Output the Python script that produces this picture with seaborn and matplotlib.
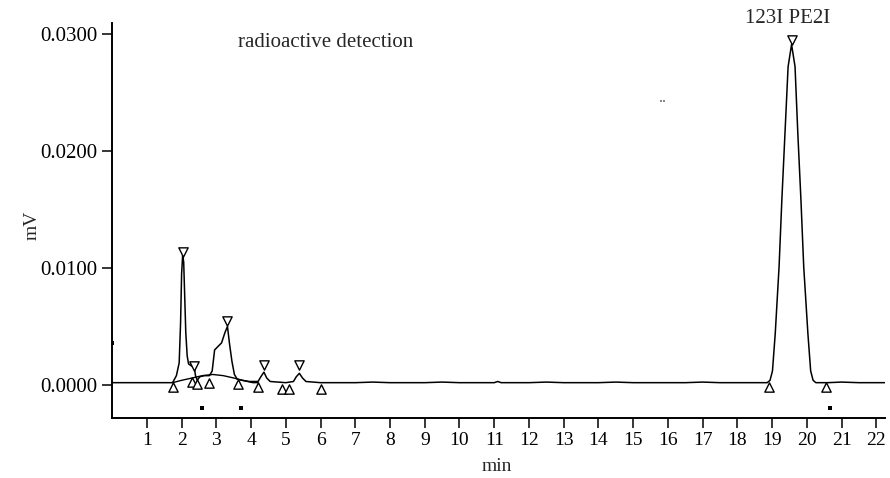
import numpy as np
import pandas as pd
import matplotlib
matplotlib.use("Agg")
import matplotlib.pyplot as plt
import seaborn as sns

# ---- data ----
trace_t = [0.0, 0.5, 1.0, 1.5, 1.74, 1.85, 1.93, 1.97, 2.00, 2.03, 2.06, 2.09, 2.12,
           2.16, 2.20, 2.30, 2.36, 2.40, 2.45, 2.52, 2.65, 2.80, 2.88, 2.95, 3.05,
           3.15, 3.25, 3.32, 3.38, 3.45, 3.52, 3.60, 3.75, 3.95, 4.20, 4.28, 4.37,
           4.45, 4.55, 5.00, 5.22, 5.30, 5.39, 5.48, 5.58, 6.0, 6.5, 7.0, 7.5, 8.0,
           8.5, 9.0, 9.5, 10.0, 10.5, 11.0, 11.1, 11.2, 11.5, 12.0, 12.5, 13.0,
           13.5, 14.0, 14.5, 15.0, 15.5, 16.0, 16.5, 17.0, 17.5, 18.0, 18.5, 18.86,
           18.94, 19.01, 19.09, 19.20, 19.28, 19.37, 19.46, 19.56, 19.66, 19.74,
           19.83, 19.91, 20.03, 20.11, 20.18, 20.26, 20.4, 20.6, 21.0, 21.5, 22.0,
           22.24]
trace_mv = [0.0002, 0.0002, 0.0002, 0.0002, 0.0002, 0.0008, 0.0019, 0.0053, 0.0095,
            0.0111, 0.0105, 0.0075, 0.0045, 0.0025, 0.0018, 0.0016, 0.0016, 0.0008,
            0.0004, 0.0007, 0.0008, 0.0008, 0.0012, 0.0030, 0.0033, 0.0036, 0.0045,
            0.0050, 0.0035, 0.0020, 0.0009, 0.0005, 0.0004, 0.0003, 0.0003, 0.0007,
            0.0011, 0.0006, 0.0003, 0.0002, 0.0003, 0.0007, 0.0010, 0.0006, 0.0003,
            0.0002, 0.0002, 0.0002, 0.00025, 0.0002, 0.0002, 0.0002, 0.00025, 0.0002,
            0.0002, 0.0002, 0.0003, 0.0002, 0.0002, 0.0002, 0.00025, 0.0002, 0.0002,
            0.0002, 0.00025, 0.0002, 0.0002, 0.0002, 0.0002, 0.00025, 0.0002, 0.0002,
            0.0002, 0.0002, 0.0004, 0.0012, 0.0044, 0.0101, 0.0158, 0.0215, 0.0272,
            0.0291, 0.0272, 0.0215, 0.0158, 0.0101, 0.0044, 0.0012, 0.0004, 0.0002,
            0.0002, 0.0002, 0.00025, 0.0002, 0.0002, 0.0002]

hump_t = [1.74, 2.0, 2.3, 2.6, 2.9, 3.2, 3.5, 3.75, 4.05, 4.2]
hump_mv = [0.0002, 0.0004, 0.0006, 0.0008, 0.0009, 0.0008, 0.0006, 0.0004, 0.0002, 0.0002]

apex_t = [2.03, 2.36, 3.32, 4.37, 5.39, 19.56]
apex_mv = [0.0114, 0.0016, 0.0055, 0.0017, 0.0017, 0.0295]

start_t = [1.74, 2.29, 2.43, 2.79, 3.63, 4.19, 4.88, 5.10, 6.00, 18.90, 20.56]
start_mv = [-0.0002, 0.0003, 0.0001, 0.0002, 0.0001, -0.0002, -0.0003, -0.0003,
            -0.0003, -0.0002, -0.0002]

dot_t = [0.0, 2.6, 3.72, 20.68]
dot_mv = [0.0036, -0.0020, -0.0020, -0.0020]

faint_t = [15.8, 15.9]
faint_mv = [0.0243, 0.0243]

x_ticks = list(range(1, 23))
y_ticks = [0.0, 0.01, 0.02, 0.03]
y_ticklabels = ["0.0000", "0.0100", "0.0200", "0.0300"]

# ---- plot ----
sns.set_style("ticks")
plt.rcParams["font.family"] = ["Liberation Serif", "DejaVu Serif"]

fig = plt.figure(figsize=(8.9, 4.78), dpi=100)
ax = fig.add_axes([0.126, 0.1255, 0.994 - 0.126, 0.952 - 0.1255])

df_trace = pd.DataFrame({"t": trace_t, "mv": trace_mv})
df_hump = pd.DataFrame({"t": hump_t, "mv": hump_mv})
sns.lineplot(data=df_trace, x="t", y="mv", ax=ax, color="black", lw=1.1,
             sort=False, estimator=None)
sns.lineplot(data=df_hump, x="t", y="mv", ax=ax, color="black", lw=1.0,
             sort=False, estimator=None)

sns.scatterplot(x=apex_t, y=apex_mv, ax=ax, marker="v", s=45,
                facecolor="white", edgecolor="black", linewidth=1.0, zorder=5)
sns.scatterplot(x=start_t, y=start_mv, ax=ax, marker="^", s=45,
                facecolor="white", edgecolor="black", linewidth=1.0, zorder=5)
sns.scatterplot(x=dot_t, y=dot_mv, ax=ax, marker="s", s=5,
                color="black", linewidth=0, zorder=5)
sns.scatterplot(x=faint_t, y=faint_mv, ax=ax, marker="s", s=2,
                color="#888888", linewidth=0, zorder=5)

ax.set_xlim(0, 22.24)
ax.set_ylim(-0.00282, 0.03094)
ax.set_xticks(x_ticks)
ax.set_xticklabels([str(v) for v in x_ticks], fontsize=14)
ax.set_yticks(y_ticks)
ax.set_yticklabels(y_ticklabels, fontsize=15)
ax.tick_params(axis="both", direction="out", length=7, width=1.1, color="black",
               labelcolor="black")
ax.tick_params(axis="x", pad=3)

for s in ["top", "right"]:
    ax.spines[s].set_visible(False)
for s in ["left", "bottom"]:
    ax.spines[s].set_linewidth(1.4)
    ax.spines[s].set_color("black")

ax.set_xlabel("min", fontsize=14)
ax.set_ylabel("mV", fontsize=14)
ax.xaxis.set_label_coords(0.498, -0.10)
ax.yaxis.set_label_coords(-0.093, 0.489)

ax.text(6.15, 0.0293, "radioactive detection", fontsize=15, ha="center", va="center")
ax.text(19.45, 0.0313, "123I PE2I", fontsize=15, ha="center", va="center",
        clip_on=False)

fig.savefig("out.png", dpi=100)
